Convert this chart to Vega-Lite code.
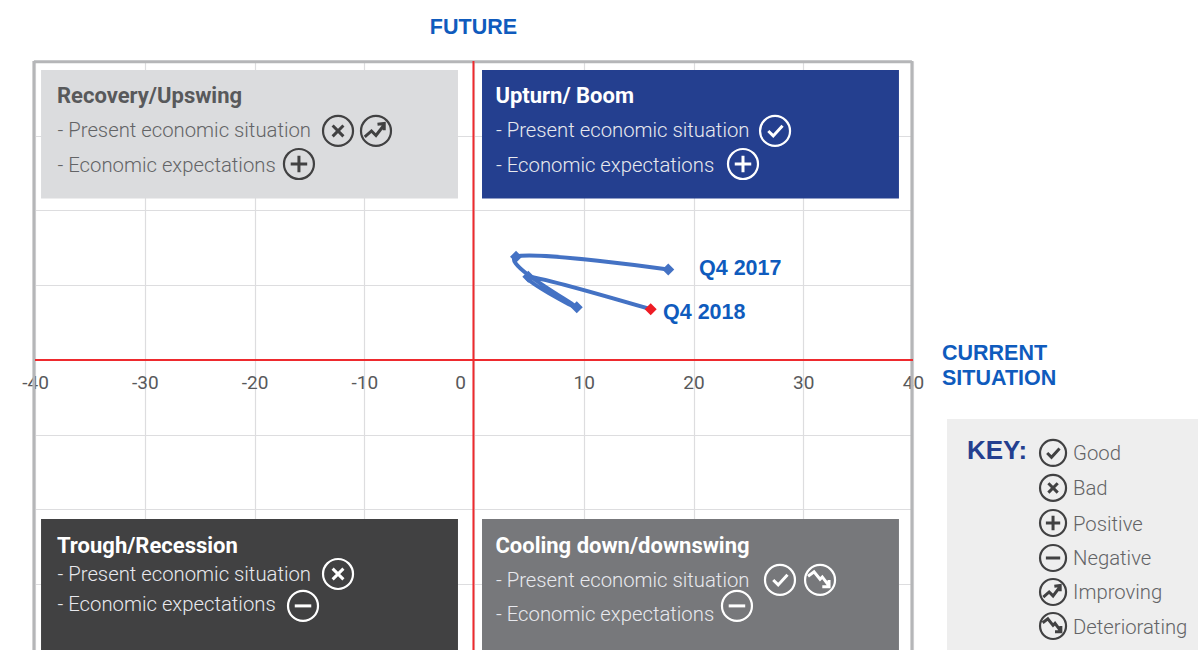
{"$schema":"https://vega.github.io/schema/vega-lite/v6.json","width":878,"height":589,"autosize":{"type":"none"},"padding":{"left":35,"top":61,"right":285,"bottom":0},"background":"#ffffff","view":{"stroke":null},
"datasets":{
"boxes":[{"name":"Recovery","x":-39.45,"x2":-1.46,"y":38.8,"y2":21.6},{"name":"Upturn","x":0.73,"x2":38.72,"y":38.8,"y2":21.6},{"name":"Trough","x":-39.45,"x2":-1.46,"y":-21.27,"y2":-38.8},{"name":"Cooling","x":0.73,"x2":38.72,"y":-21.27,"y2":-38.8},{"name":"Key","x":43.1,"x2":65.97,"y":-7.89,"y2":-38.8}],
"frame":[{"name":"left","x":-40.1,"y":40,"y2":-38.8},{"name":"right","x":39.9,"y":40,"y2":-38.8}],
"path":[{"q":"Q4 2017","i":1,"x":17.7,"y":12.1},{"q":"Q1 2018","i":2,"x":3.83,"y":13.8},{"q":"Q2 2018","i":3,"x":9.36,"y":7.05},{"q":"Q3 2018","i":4,"x":4.95,"y":11.15},{"q":"Q4 2018","i":5,"x":16.1,"y":6.8}],
"labels":[
{"kind":"head","text":"Recovery/Upswing","tone":"dark","x":-38.0,"y":35.58},{"kind":"body","text":"- Present economic situation","tone":"dark","x":-37.95,"y":30.9},{"kind":"body","text":"- Economic expectations","tone":"dark","x":-37.95,"y":26.22},
{"kind":"head","text":"Upturn/ Boom","tone":"light","x":1.95,"y":35.58},{"kind":"body","text":"- Present economic situation","tone":"light","x":2.0,"y":30.9},{"kind":"body","text":"- Economic expectations","tone":"light","x":2.0,"y":26.22},
{"kind":"head","text":"Trough/Recession","tone":"light","x":-38.0,"y":-24.75},{"kind":"body","text":"- Present economic situation","tone":"light","x":-37.95,"y":-28.63},{"kind":"body","text":"- Economic expectations","tone":"light","x":-37.95,"y":-32.64},
{"kind":"head","text":"Cooling down/downswing","tone":"light","x":1.95,"y":-24.75},{"kind":"body","text":"- Present economic situation","tone":"light","x":2.0,"y":-29.43},{"kind":"body","text":"- Economic expectations","tone":"light","x":2.0,"y":-33.98},
{"kind":"body","text":"Good","tone":"dark","x":54.58,"y":-12.44},{"kind":"body","text":"Bad","tone":"dark","x":54.58,"y":-17.12},{"kind":"body","text":"Positive","tone":"dark","x":54.58,"y":-21.81},{"kind":"body","text":"Negative","tone":"dark","x":54.58,"y":-26.49},{"kind":"body","text":"Improving","tone":"dark","x":54.58,"y":-31.04},{"kind":"body","text":"Deteriorating","tone":"dark","x":54.58,"y":-35.59},
{"kind":"blue","text":"Q4 2017","x":20.5,"y":12.31},{"kind":"blue","text":"Q4 2018","x":17.22,"y":6.42},{"kind":"blue","text":"CURRENT","x":42.64,"y":0.94},{"kind":"blue","text":"SITUATION","x":42.64,"y":-2.41},
{"kind":"key","text":"KEY:","x":44.92,"y":-12.17}],
"titles":[{"text":"FUTURE","x":-0.05,"y":44.55}],
"icons":[
{"icon":"bad","tone":"dark","group":"panel","x":-12.39,"y":30.64},{"icon":"improving","tone":"dark","group":"panel","x":-8.93,"y":30.64},{"icon":"positive","tone":"dark","group":"panel","x":-15.95,"y":26.22},
{"icon":"good","tone":"light","group":"panel","x":27.43,"y":30.64},{"icon":"positive","tone":"light","group":"panel","x":24.51,"y":26.22},
{"icon":"bad","tone":"light","group":"panel","x":-12.39,"y":-28.63},{"icon":"negative","tone":"light","group":"panel","x":-15.58,"y":-32.9},
{"icon":"good","tone":"light","group":"panel","x":27.88,"y":-29.43},{"icon":"deteriorating","tone":"light","group":"panel","x":31.53,"y":-29.43},{"icon":"negative","tone":"light","group":"panel","x":23.96,"y":-32.9},
{"icon":"good","tone":"dark","group":"key","x":52.76,"y":-12.44},{"icon":"bad","tone":"dark","group":"key","x":52.76,"y":-17.12},{"icon":"positive","tone":"dark","group":"key","x":52.76,"y":-21.81},{"icon":"negative","tone":"dark","group":"key","x":52.76,"y":-26.49},{"icon":"improving","tone":"dark","group":"key","x":52.76,"y":-31.04},{"icon":"deteriorating","tone":"dark","group":"key","x":52.76,"y":-35.59}]
},
"layer":[
{"data":{"name":"frame"},"mark":{"type":"rule","stroke":"#b5b6b8","strokeWidth":3},
"encoding":{"x":{"field":"x","type":"quantitative","scale":{"domain":[-40,40],"nice":false,"zero":false},
"axis":{"title":null,"values":[-40,-30,-20,-10,0,10,20,30,40],"offset":-290,"grid":true,"gridColor":"#dddddf","gridWidth":1.2,"domain":false,"ticks":false,"labelFont":"Roboto","labelFontSize":19,"labelColor":"#58595b","labelPadding":22,"labelBaseline":"middle","labelFlush":false,"labelOverlap":false,"labelOffset":{"condition":{"test":"datum.value == 0","value":-14},"value":0},"labelExpr":"'' + datum.value"}},
"y":{"field":"y","type":"quantitative","scale":{"domain":[-38.8,40],"nice":false,"zero":false},"axis":{"title":null,"values":[-30,-20,-10,0,10,20,30],"grid":true,"gridColor":"#dddddf","gridWidth":1.2,"domain":false,"ticks":false,"labels":false}},
"y2":{"field":"y2"}}},
{"data":{"values":[{"side":"top","x":-40.1,"x2":39.9,"y":39.9}]},"mark":{"type":"rule","stroke":"#b5b6b8","strokeWidth":3},"encoding":{"x":{"field":"x","type":"quantitative"},"x2":{"field":"x2"},"y":{"field":"y","type":"quantitative"}}},
{"data":{"values":[{"axis":"vertical","x":-0.05,"y":40,"y2":-38.8}]},"mark":{"type":"rule","stroke":"#ee2a2e","strokeWidth":2},"encoding":{"x":{"field":"x","type":"quantitative"},"y":{"field":"y","type":"quantitative"},"y2":{"field":"y2"}}},
{"data":{"values":[{"axis":"horizontal","x":-40,"x2":40,"y":0}]},"mark":{"type":"rule","stroke":"#ee2a2e","strokeWidth":2},"encoding":{"x":{"field":"x","type":"quantitative"},"x2":{"field":"x2"},"y":{"field":"y","type":"quantitative"}}},
{"data":{"name":"boxes"},"mark":{"type":"rect"},"encoding":{"x":{"field":"x","type":"quantitative"},"x2":{"field":"x2"},"y":{"field":"y","type":"quantitative"},"y2":{"field":"y2"},"color":{"field":"name","type":"nominal","legend":null,"scale":{"domain":["Recovery","Upturn","Trough","Cooling","Key"],"range":["#dbdcde","#243f8f","#414142","#77787b","#eeeeee"]}}}},
{"data":{"name":"path"},"mark":{"type":"line","stroke":"#4472c4","strokeWidth":4,"interpolate":"cardinal","tension":0},"encoding":{"x":{"field":"x","type":"quantitative"},"y":{"field":"y","type":"quantitative"},"order":{"field":"i","type":"quantitative"}}},
{"data":{"name":"path"},"mark":{"type":"point","shape":"diamond","filled":true,"opacity":1,"size":144},"encoding":{"x":{"field":"x","type":"quantitative"},"y":{"field":"y","type":"quantitative"},"fill":{"condition":{"test":"datum.q === 'Q4 2018'","value":"#ee1c25"},"value":"#4472c4"}}},
{"data":{"name":"labels"},"transform":[{"filter":"datum.kind === 'head'"}],"mark":{"type":"text","align":"left","baseline":"middle","font":"Roboto","fontWeight":"bold","fontSize":22,"dy":1.5},"encoding":{"x":{"field":"x","type":"quantitative"},"y":{"field":"y","type":"quantitative"},"text":{"field":"text"},"fill":{"condition":{"test":"datum.tone === 'light'","value":"#ffffff"},"value":"#58595b"}}},
{"data":{"name":"labels"},"transform":[{"filter":"datum.kind === 'body'"}],"mark":{"type":"text","align":"left","baseline":"middle","font":"Roboto","fontWeight":300,"fontSize":20.3,"dy":1.5},"encoding":{"x":{"field":"x","type":"quantitative"},"y":{"field":"y","type":"quantitative"},"text":{"field":"text"},"fill":{"condition":{"test":"datum.tone === 'light'","value":"#e8e9ee"},"value":"#636466"}}},
{"data":{"name":"labels"},"transform":[{"filter":"datum.kind === 'blue'"}],"mark":{"type":"text","align":"left","baseline":"middle","font":"Liberation Sans","fontWeight":"bold","fontSize":21.5,"fill":"#0f5bbd","dy":1},"encoding":{"x":{"field":"x","type":"quantitative"},"y":{"field":"y","type":"quantitative"},"text":{"field":"text"}}},
{"data":{"name":"titles"},"mark":{"type":"text","align":"center","baseline":"middle","font":"Liberation Sans","fontWeight":"bold","fontSize":21.5,"fill":"#0f5bbd","dy":1},"encoding":{"x":{"field":"x","type":"quantitative"},"y":{"field":"y","type":"quantitative"},"text":{"field":"text"}}},
{"data":{"name":"labels"},"transform":[{"filter":"datum.kind === 'key'"}],"mark":{"type":"text","align":"left","baseline":"middle","font":"Liberation Sans","fontWeight":"bold","fontSize":26,"fill":"#243f8f"},"encoding":{"x":{"field":"x","type":"quantitative"},"y":{"field":"y","type":"quantitative"},"text":{"field":"text"}}},
{"data":{"name":"icons"},"mark":{"type":"point","shape":"circle","filled":false,"opacity":1,"strokeWidth":2.2},"encoding":{"x":{"field":"x","type":"quantitative"},"y":{"field":"y","type":"quantitative"},"size":{"field":"group","type":"ordinal","legend":null,"scale":{"type":"ordinal","domain":["panel","key"],"range":[900,676]}},"stroke":{"condition":{"test":"datum.tone === 'light'","value":"#ffffff"},"value":"#414142"}}},
{"data":{"name":"icons"},"mark":{"type":"point","filled":false,"opacity":1,"strokeWidth":3},"encoding":{"x":{"field":"x","type":"quantitative"},"y":{"field":"y","type":"quantitative"},"size":{"field":"group","type":"ordinal","legend":null,"scale":{"type":"ordinal","domain":["panel","key"],"range":[900,676]}},"shape":{"field":"icon","type":"nominal","legend":null,"scale":{"domain":["good","bad","positive","negative","improving","deteriorating"],"range":["M-0.45,0 L-0.12,0.33 L0.5,-0.35","M-0.36,-0.36 L0.36,0.36 M0.36,-0.36 L-0.36,0.36","M-0.55,0 L0.55,0 M0,-0.55 L0,0.55","M-0.55,0 L0.55,0","M-0.75,0.4 L-0.3,0 L0,0.3 L0.5,-0.35 M0.1,-0.45 L0.55,-0.5 L0.55,-0.05","M-0.8,-0.25 L-0.4,-0.55 L0,-0.05 L0.15,-0.2 L0.6,0.4 M0.6,0 L0.6,0.45 L0.15,0.45"]}},"stroke":{"condition":{"test":"datum.tone === 'light'","value":"#ffffff"},"value":"#414142"}}}
]}
